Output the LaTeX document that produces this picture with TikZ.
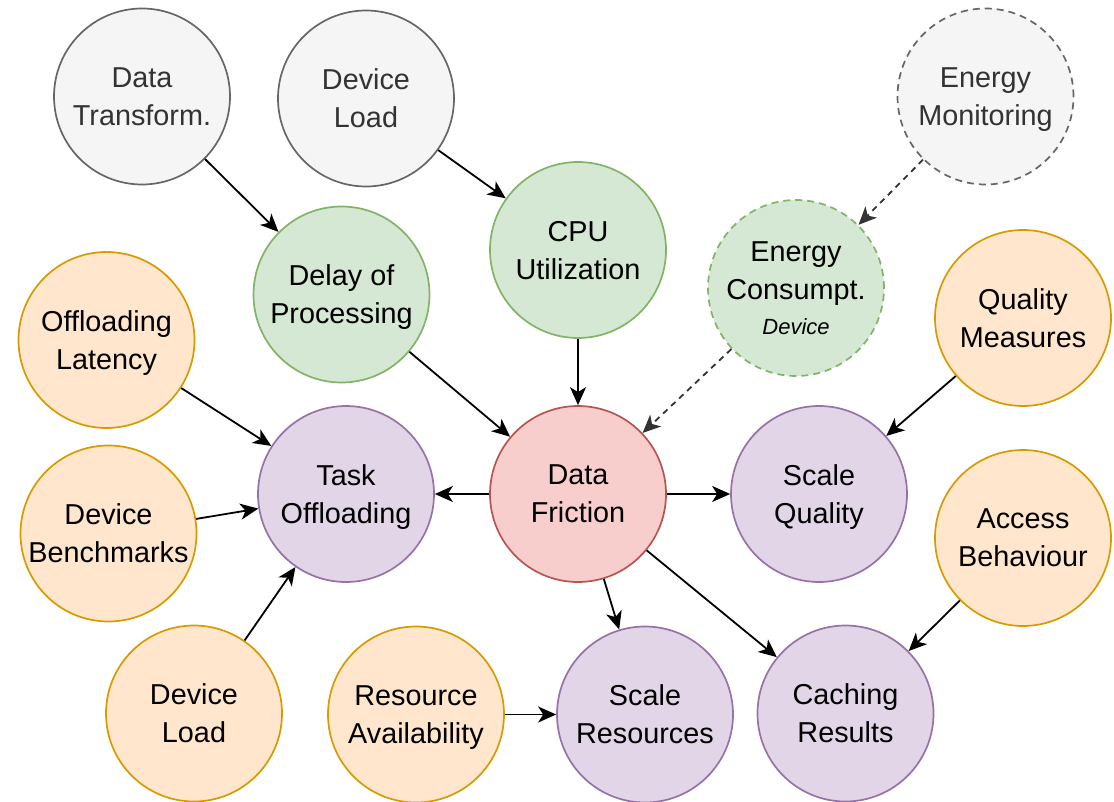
\documentclass[tikz,border=0pt]{standalone}
\usepackage{fontspec}
\setmainfont{Liberation Sans}
\usetikzlibrary{arrows.meta}

\definecolor{greyfill}{HTML}{F5F5F5}
\definecolor{greyline}{HTML}{666666}
\definecolor{greytext}{HTML}{333333}
\definecolor{greenfill}{HTML}{D5E8D4}
\definecolor{greenline}{HTML}{82B366}
\definecolor{orangefill}{HTML}{FFE6CC}
\definecolor{orangeline}{HTML}{D79B00}
\definecolor{purplefill}{HTML}{E1D5E7}
\definecolor{purpleline}{HTML}{9673A6}
\definecolor{redfill}{HTML}{F8CECC}
\definecolor{redline}{HTML}{B85450}

\begin{document}
\begin{tikzpicture}[x=1pt,y=-1pt,
  bubble/.style={circle, minimum size=176pt, inner sep=0pt, line width=1.7pt,
    align=center, text depth=0pt, font=\fontsize{28.8}{38}\selectfont},
  source/.style={bubble, fill=greyfill, draw=greyline, text=greytext},
  metric/.style={bubble, fill=greenfill, draw=greenline},
  factor/.style={bubble, fill=orangefill, draw=orangeline},
  action/.style={bubble, fill=purplefill, draw=purpleline},
  core/.style={bubble, fill=redfill, draw=redline},
  dashedline/.style={dash pattern=on 7pt off 5pt},
  link/.style={line width=1.8pt, -{Stealth[length=18pt,width=16pt,inset=5pt]}},
  dlink/.style={link, draw=greytext, dash pattern=on 6pt off 5pt},
]
\useasboundingbox (0,0) rectangle (1114,802);

% upstream sources
\node[source] (dt) at (142,96.5) {Data\\Transform.};
\node[source] (dlt) at (366,98.5) {Device\\Load};
\node[source, dashedline] (em) at (985.5,96.5) {Energy\\Monitoring};

% measured metrics
\node[metric] (cpu) at (578,250) {CPU\\Utilization};
\node[metric] (dp) at (341.5,294.5) {Delay of\\Processing};
\node[metric, dashedline] (ec) at (796,288)
  {Energy\\Consumpt.\\[-3pt]{\fontsize{22}{26}\selectfont\itshape Device}};

% central node
\node[core] (df) at (578,494) {Data\\Friction};

% influencing factors
\node[factor] (ol) at (106.5,340) {Offloading\\Latency};
\node[factor] (db) at (108.5,533.5) {Device\\Benchmarks};
\node[factor] (dlb) at (194,713.5) {Device\\Load};
\node[factor] (ra) at (416,714.5) {Resource\\Availability};
\node[factor] (qm) at (1023,318) {Quality\\Measures};
\node[factor] (ab) at (1023,538) {Access\\Behaviour};

% adaptation actions
\node[action] (to) at (346,494) {Task\\Offloading};
\node[action] (sq) at (819,494) {Scale\\Quality};
\node[action] (sr) at (645,714.5) {Scale\\Resources};
\node[action] (cr) at (845.5,713.5) {Caching\\Results};

% connectors
\draw[link] (dt) -- (dp);
\draw[link] (dlt) -- (cpu);
\draw[link] (cpu) -- (df);
\draw[link] (dp) -- (df);
\draw[dlink] (em) -- (ec);
\draw[dlink] (ec) -- (df);
\draw[link] (ol) -- (to);
\draw[link] (db) -- (to);
\draw[link] (dlb) -- (to);
\draw[link] (df) -- (to);
\draw[link] (df) -- (sq);
\draw[link] (qm) -- (sq);
\draw[link] (df) -- (sr);
\draw[link] (df) -- (cr);
\draw[link] (ab) -- (cr);
\draw[link] (ra) -- (sr);
\end{tikzpicture}
\end{document}
